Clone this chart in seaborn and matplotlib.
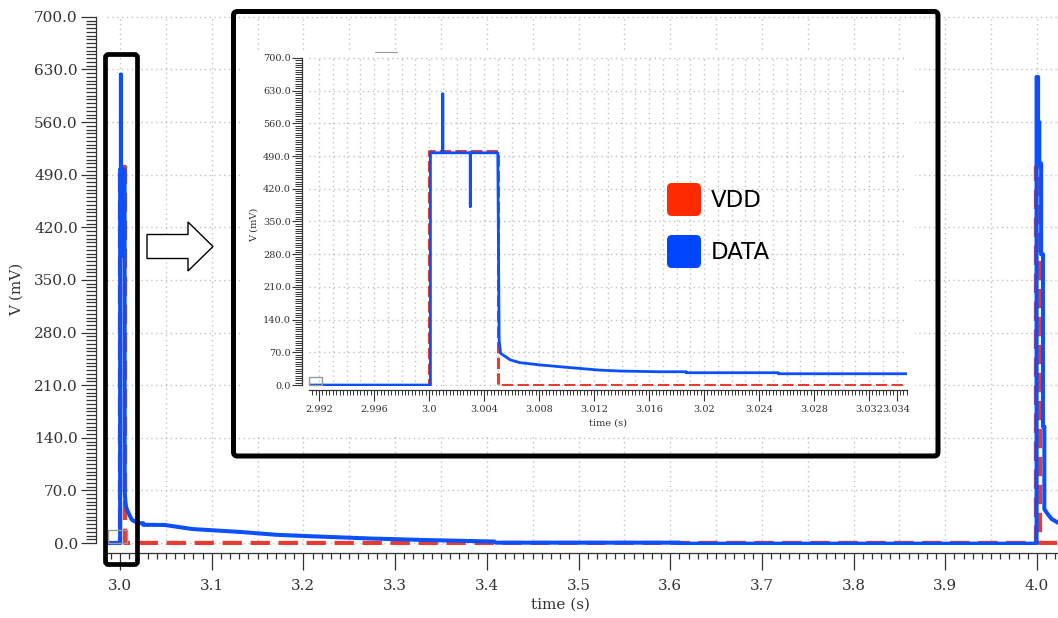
import numpy as np
import pandas as pd
import seaborn as sns
import matplotlib.pyplot as plt
from matplotlib.ticker import MultipleLocator, FormatStrFormatter
from matplotlib.patches import Rectangle, FancyBboxPatch, FancyArrow
from matplotlib.lines import Line2D

# ---- data (time in s, voltage in mV) ----
vdd_t = [2.986, 3.0, 3.0, 3.005, 3.005, 3.9985, 3.9985, 4.0035, 4.0035, 4.023]
vdd_v = [0, 0, 500, 500, 0, 0, 500, 500, 0, 0]

data_t = [2.986, 3.0001, 3.0001, 3.001, 3.001, 3.001, 3.003, 3.003, 3.003, 3.005,
          3.0051, 3.0052, 3.0059, 3.0066, 3.0081, 3.010, 3.0124, 3.0139, 3.0168, 3.0187,
          3.0187, 3.0254, 3.0254, 3.0348, 3.049, 3.079, 3.133, 3.170, 3.209, 3.274,
          3.334, 3.408, 3.41, 3.61, 3.61, 3.9995,
          3.9995, 4.0012, 4.0012, 4.0025, 4.0025, 4.0045, 4.0045, 4.0065, 4.0065, 4.008,
          4.008, 4.012, 4.016, 4.023]
data_v = [0, 0, 497, 497, 623, 497, 497, 382, 497, 497,
          96, 68, 54, 48, 43, 38, 32, 30, 28.5, 28.5,
          26.4, 26.4, 24.2, 24.2, 24, 18.6, 14.6, 11, 9, 6,
          4, 2, 0.5, 0.5, -0.8, -0.8,
          620, 620, 560, 560, 505, 505, 384, 384, 155, 155,
          45, 38, 32, 27]

signals = ['VDD', 'DATA']
line_colors = {'VDD': '#e63c32', 'DATA': '#0a50ff'}
legend_colors = {'VDD': '#ff2a00', 'DATA': '#0046ff'}

# inset tick values / labels
inset_xticks = [2.992, 2.996, 3.0, 3.004, 3.008, 3.012, 3.016, 3.02, 3.024, 3.028, 3.032, 3.034]
inset_xlabels = ['2.992', '2.996', '3.0', '3.004', '3.008', '3.012', '3.016', '3.02',
                 '3.024', '3.028', '3.032', '3.034']

traces = pd.concat([
    pd.DataFrame({'time': vdd_t, 'V': vdd_v, 'signal': 'VDD'}),
    pd.DataFrame({'time': data_t, 'V': data_v, 'signal': 'DATA'}),
], ignore_index=True)

sns.set_theme(style='ticks')
plt.rcParams['font.family'] = ['DejaVu Serif']
plt.rcParams['axes.edgecolor'] = '#333333'
plt.rcParams['axes.linewidth'] = 0.9

W, H = 1058, 618
fig = plt.figure(figsize=(W / 100, H / 100), dpi=100)

GRID = dict(linestyle=(0, (1, 2.5)), color='#c2c2c2', linewidth=1)


def px(x, y):
    '''pixel position (from top-left) -> inches for fig.dpi_scale_trans'''
    return x / 100, (H - y) / 100


def draw_traces(ax, widths, dash):
    for name in signals:
        sub = traces[traces['signal'] == name]
        style = (0, dash) if name == 'VDD' else '-'
        sns.lineplot(data=sub, x='time', y='V', color=line_colors[name],
                     linewidth=widths[name], linestyle=style,
                     estimator=None, sort=False, ax=ax)


# ---- main axes ----
ax = fig.add_axes([107 / W, 72.7 / H, 951 / W, 530 / H])
ax.set_zorder(0)
draw_traces(ax, {'VDD': 3.1, 'DATA': 2.9}, (4.5, 2.0))
ax.set_xlim(2.9858, 4.0229)
ax.set_ylim(-3, 702)

ax.xaxis.set_major_locator(MultipleLocator(0.1))
ax.xaxis.set_minor_locator(MultipleLocator(0.01))
ax.xaxis.set_major_formatter(FormatStrFormatter('%.1f'))
ax.yaxis.set_major_locator(MultipleLocator(70))
ax.yaxis.set_minor_locator(MultipleLocator(5))
ax.yaxis.set_major_formatter(FormatStrFormatter('%.1f'))

sns.despine(ax=ax, offset={'left': 8, 'bottom': 5.5})
ax.spines['left'].set_bounds(0, 700)
ax.tick_params(axis='x', which='major', length=12, width=0.9, color='#333333',
               labelsize=11, labelcolor='#333333', pad=7)
ax.tick_params(axis='x', which='minor', length=4.5, width=0.9, color='#333333')
ax.tick_params(axis='y', which='major', length=11, width=0.9, color='#333333',
               labelsize=11, labelcolor='#333333', pad=2)
ax.tick_params(axis='y', which='minor', length=7, width=0.9, color='#333333')

ax.yaxis.grid(True, which='major', **GRID)
for gx in np.arange(3.0, 4.03, 0.05):
    ax.axvline(gx, zorder=0, **GRID)

ax.set_xlabel('time (s)', fontsize=11, color='#333333')
ax.set_ylabel('V (mV)', fontsize=11, color='#333333')
ax.xaxis.set_label_coords(0.477, -0.098)
ax.yaxis.set_label_coords(-0.087, 0.482)

# ---- inset: white screenshot backdrop ----
x0, y0 = px(243, 437)
fig.add_artist(Rectangle((x0, y0), (915 - 243) / 100, (437 - 52) / 100,
                         transform=fig.dpi_scale_trans, facecolor='white',
                         edgecolor='none', zorder=1))

axi = fig.add_axes([309 / W, (H - 386) / H, 598 / W, 329 / H])
axi.set_zorder(2)
draw_traces(axi, {'VDD': 2.2, 'DATA': 2.0}, (3.7, 1.4))
axi.set_xlim(2.99127, 3.03476)
axi.set_ylim(-2, 702)
axi.set_xticks(inset_xticks, inset_xlabels)
axi.xaxis.set_minor_locator(MultipleLocator(0.00025))
axi.yaxis.set_major_locator(MultipleLocator(70))
axi.yaxis.set_minor_locator(MultipleLocator(5))
axi.yaxis.set_major_formatter(FormatStrFormatter('%.1f'))

sns.despine(ax=axi, offset={'left': 5, 'bottom': 3})
axi.spines['left'].set_bounds(0, 700)
axi.tick_params(axis='x', which='major', length=8, width=0.8, color='#333333',
                labelsize=7, labelcolor='#333333', pad=3)
axi.tick_params(axis='x', which='minor', length=3.5, width=0.7, color='#333333')
axi.tick_params(axis='y', which='major', length=7, width=0.8, color='#333333',
                labelsize=7, labelcolor='#333333', pad=1)
axi.tick_params(axis='y', which='minor', length=5, width=0.7, color='#333333')

axi.yaxis.grid(True, which='major', **GRID)
for gx in np.arange(2.992, 3.0345, 0.001):
    axi.axvline(gx, zorder=0, **GRID)

axi.set_xlabel('time (s)', fontsize=7, color='#333333')
axi.set_ylabel('V (mV)', fontsize=7, color='#333333')
axi.xaxis.set_label_coords(0.5, -0.1)
axi.yaxis.set_label_coords(-0.085, 0.49)

# small gray marker boxes left by the simulator
for bx, by, bw, bh in [(108, 543, 19, 13), (309, 385, 13, 8)]:
    fig.add_artist(Rectangle(px(bx, by), bw / 100, bh / 100, transform=fig.dpi_scale_trans,
                             facecolor='none', edgecolor='#9a9a9a', linewidth=1, zorder=3))
fig.add_artist(Line2D([3.75, 3.97], [(H - 52) / 100] * 2, transform=fig.dpi_scale_trans,
                      color='#999999', linewidth=0.8, zorder=3))

# ---- frames and arrow ----
fx, fy = px(233.5, 456)
fig.add_artist(FancyBboxPatch((fx, fy), (938 - 233.5) / 100, (456 - 11.5) / 100,
                              boxstyle='round,pad=0,rounding_size=0.04',
                              transform=fig.dpi_scale_trans, facecolor='none',
                              edgecolor='black', linewidth=3.6, zorder=4))
sx, sy = px(105.5, 564.5)
fig.add_artist(FancyBboxPatch((sx, sy), (137.5 - 105.5) / 100, (564.5 - 54.5) / 100,
                              boxstyle='round,pad=0,rounding_size=0.03',
                              transform=fig.dpi_scale_trans, facecolor='none',
                              edgecolor='black', linewidth=3.4, zorder=4))
ax_, ay_ = px(147, 246.5)
fig.add_artist(FancyArrow(ax_, ay_, 0.66, 0, width=0.24, head_width=0.49, head_length=0.25,
                          length_includes_head=True, transform=fig.dpi_scale_trans,
                          facecolor='white', edgecolor='black', linewidth=1.0, zorder=4))

# ---- legend (rounded colour swatches) ----
for name, top in zip(signals, [183, 235]):
    lx, ly = px(667, top + 33)
    fig.add_artist(FancyBboxPatch((lx, ly), 0.34, 0.33,
                                  boxstyle='round,pad=0,rounding_size=0.05',
                                  transform=fig.dpi_scale_trans,
                                  facecolor=legend_colors[name], edgecolor='none', zorder=4))
    tx, ty = px(711, top + 17.5)
    fig.text(tx, ty, name, transform=fig.dpi_scale_trans, fontsize=16.5,
             family=['DejaVu Sans'], color='black', va='center', ha='left', zorder=5)

fig.savefig('out.png', dpi=100)
plt.close(fig)
